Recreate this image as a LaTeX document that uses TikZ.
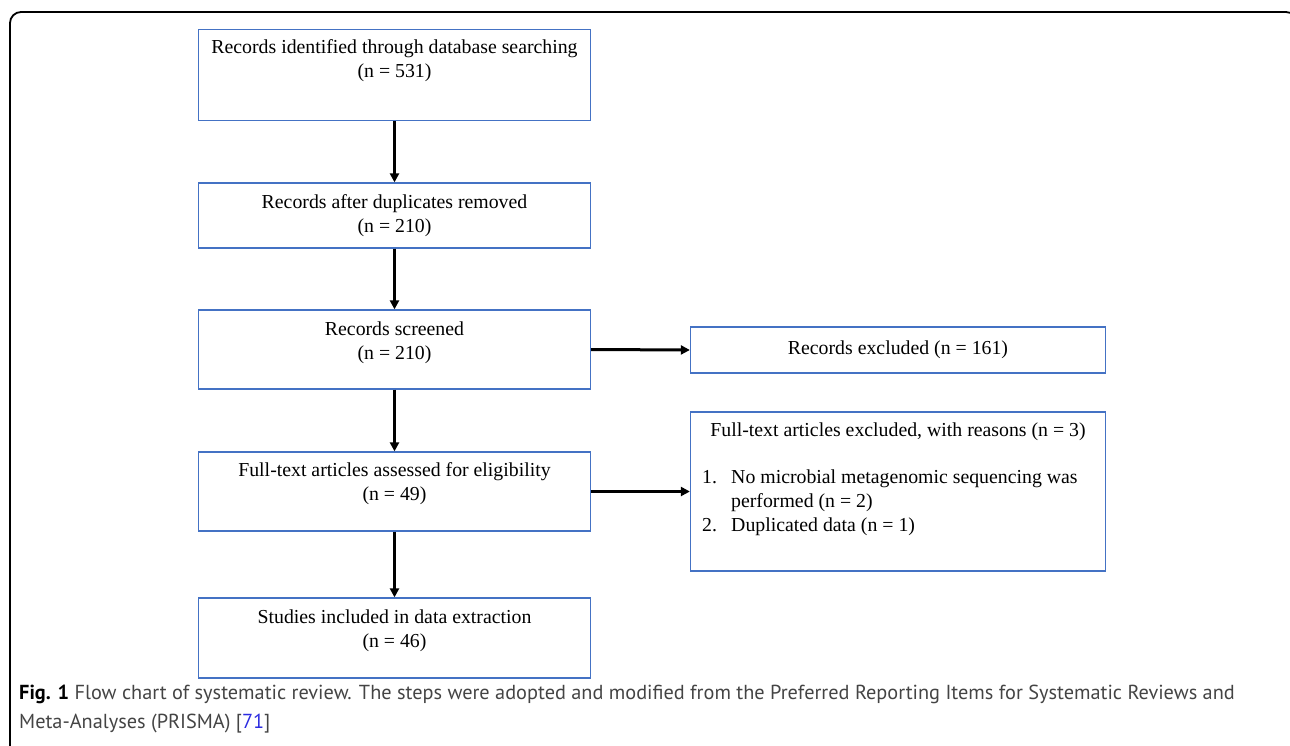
\documentclass[tikz,border=0pt]{standalone}
\usepackage{fontspec}
\setmainfont{Liberation Serif}
\newfontfamily\capfont{PT Sans}
\usetikzlibrary{arrows.meta}
\definecolor{boxblue}{HTML}{4472C4}
\definecolor{capgrey}{HTML}{444444}
\definecolor{linkblue}{HTML}{2B2BE0}
\begin{document}
\begin{tikzpicture}[x=1pt,y=-1pt,
  box/.style={draw=boxblue, line width=1.3pt, inner sep=0pt, minimum width=392pt},
  sidebox/.style={draw=boxblue, line width=1.3pt, inner sep=0pt, minimum width=415pt},
  lbl/.style={inner sep=0pt, align=center, font=\fontsize{19.8}{24}\selectfont, anchor=north},
  plain/.style={inner sep=0pt, font=\fontsize{19.8}{24}\selectfont},
  arr/.style={line width=3pt, -{Triangle[length=9pt,width=9pt]}},
  frame/.style={line width=1.8pt, rounded corners=11pt},
  captext/.style={inner sep=0pt, anchor=base west, font=\capfont\fontsize{20.3}{29}\selectfont, text=capgrey},
]
\useasboundingbox (0,0) rectangle (1290,746);
\draw[frame] (10,760) -- (10,12) -- (1297,12) -- (1297,760);

% main column
\node[box, minimum height=91pt] (b1) at (394.5,75) {};
\node[box, minimum height=65pt] (b2) at (394.5,215.5) {};
\node[box, minimum height=79pt] (b3) at (394.5,349.5) {};
\node[box, minimum height=79pt] (b4) at (394.5,491.5) {};
\node[box, minimum height=80pt] (b5) at (394.5,638) {};

\node[lbl] (t1) at ([yshift=-11pt]b1.north) {Records identified through database searching\\(n = 531)};
\node[lbl] (t2) at ([yshift=-12.5pt]b2.north) {Records after duplicates removed\\(n = 210)};
\node[lbl] (t3) at ([yshift=-12pt]b3.north) {Records screened\\(n = 210)};
\node[lbl] (t4) at ([yshift=-11pt]b4.north) {Full-text articles assessed for eligibility\\(n = 49)};
\node[lbl] (t5) at ([yshift=-12pt]b5.north) {Studies included in data extraction\\(n = 46)};

% side boxes
\node[sidebox, minimum height=46pt] (r1) at (898,350) {};
\node[plain] (rt1) at (r1.center) {Records excluded (n = 161)};
\node[sidebox, minimum height=159pt] (r2) at (898,491.5) {};
\node[plain, anchor=base] (rt2) at (898,436) {Full-text articles excluded, with reasons (n = 3)};
\node[plain, anchor=base west] (n1) at (702,483) {1.};
\node[plain, anchor=base west] (i1) at (731,483) {No microbial metagenomic sequencing was};
\node[plain, anchor=base west] (i1b) at (731,507) {performed (n = 2)};
\node[plain, anchor=base west] (n2) at (702,531) {2.};
\node[plain, anchor=base west] (i2) at (731,531) {Duplicated data (n = 1)};

% connectors
\draw[arr] (b1.south) -- (b2.north);
\draw[arr] (b2.south) -- (b3.north);
\draw[arr] (b3.south) -- (b4.north);
\draw[arr] (b4.south) -- (b5.north);
\draw[arr] (b3.east) -- (r1.west);
\draw[arr] (b4.east) -- (r2.west);

% caption
\node[captext] (cap1) at (19,699)
  {\textbf{\color{black}Fig. 1} Flow chart of systematic review. The steps were adopted and modified from the Preferred Reporting Items for Systematic Reviews and};
\node[captext] (cap2) at (19,728)
  {Meta-Analyses (PRISMA) [{\color{linkblue}71}]};
\end{tikzpicture}
\end{document}
